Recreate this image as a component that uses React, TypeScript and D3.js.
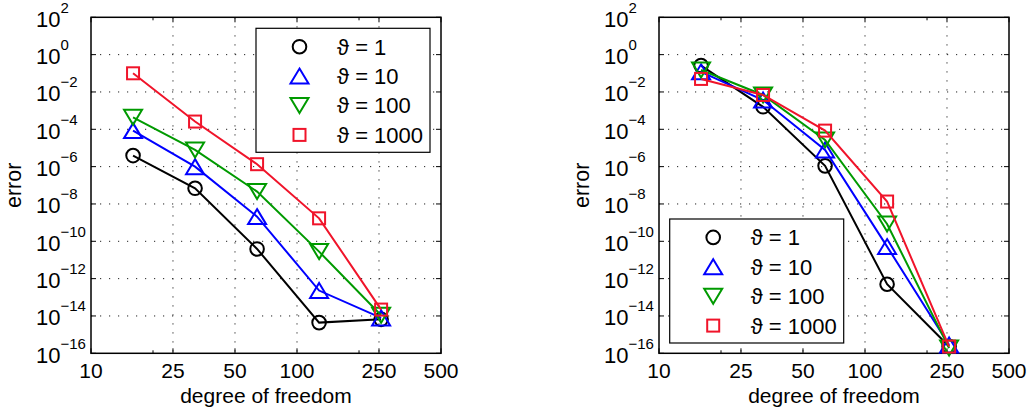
import React from 'react';
import * as d3 from 'd3';

// degrees of freedom (x) and axis ticks
const dof = [16, 32, 64, 128, 256];
const xTicks = [10, 25, 50, 100, 250, 500];
const xMinorTicks = [20, 200];
const yTicks = [1e2, 1e0, 1e-2, 1e-4, 1e-6, 1e-8, 1e-10, 1e-12, 1e-14, 1e-16];
const yTickExp = ['2', '0', '\u22122', '\u22124', '\u22126', '\u22128', '\u221210', '\u221212', '\u221214', '\u221216'];
const seriesNames = ['\u03d1 = 1', '\u03d1 = 10', '\u03d1 = 100', '\u03d1 = 1000'];

// left panel errors
const leftTheta1 = [3.9e-6, 6.9e-8, 3.9e-11, 4.4e-15, 6.6e-15];
const leftTheta10 = [8.5e-5, 1.0e-6, 2.1e-9, 2.3e-13, 7.9e-15];
const leftTheta100 = [4.4e-4, 7.8e-6, 4.6e-8, 2.8e-11, 1.1e-14];
const leftTheta1000 = [1.0e-1, 2.6e-4, 1.35e-6, 1.7e-9, 2.2e-14];

// right panel errors
const rightTheta1 = [2.6e-1, 1.6e-3, 1.1e-6, 5.0e-13, 2.3e-16];
const rightTheta10 = [1.2e-1, 3.7e-3, 7.8e-6, 5.2e-11, 2.8e-16];
const rightTheta100 = [1.5e-1, 6.9e-3, 2.7e-5, 8.5e-10, 1.9e-16];
const rightTheta1000 = [5.0e-2, 6.9e-3, 8.5e-5, 1.35e-8, 2.3e-16];

const colors = ['#000000', '#0000ff', '#009a00', '#f0142a'];
const markers = ['circle', 'up', 'down', 'square'];
const font = '"Liberation Sans", Arial, Helvetica, sans-serif';

const W = 350;
const H = 336;
const TOP = 17.3;

function Marker({ type, x, y, color }: { type: string; x: number; y: number; color: string }) {
  const common = { fill: 'none', stroke: color, strokeWidth: 2 };
  if (type === 'circle') return <circle cx={x} cy={y} r={6.8} {...common} />;
  if (type === 'square') return <rect x={x - 6} y={y - 6} width={12} height={12} {...common} />;
  if (type === 'up')
    return <path d={`M${x},${y - 7.5}L${x + 9},${y + 7.5}L${x - 9},${y + 7.5}Z`} {...common} strokeLinejoin="miter" />;
  return <path d={`M${x},${y + 7.5}L${x + 9},${y - 7.5}L${x - 9},${y - 7.5}Z`} {...common} strokeLinejoin="miter" />;
}

function Panel({ left, series, legend }: { left: number; series: number[][]; legend: { x: number; y: number } }) {
  const x = d3.scaleLog().domain([10, 500]).range([0, W]);
  const y = d3.scaleLog().domain([1e-16, 1e2]).range([H, 0]);
  const line = d3.line<number>().x((_, i) => x(dof[i])).y(d => y(d));

  return (
    <g transform={`translate(${left},${TOP})`} fontFamily={font}>
      {/* grid */}
      {xTicks.slice(1, -1).map(t => (
        <line key={'gx' + t} x1={x(t)} x2={x(t)} y1={0} y2={H} stroke="#222" strokeWidth={1} strokeDasharray="1.2 7.8" />
      ))}
      {yTicks.slice(1, -1).map(t => (
        <line key={'gy' + t} x1={0} x2={W} y1={y(t)} y2={y(t)} stroke="#222" strokeWidth={1} strokeDasharray="1.2 7.8" />
      ))}
      {/* ticks */}
      {xTicks.map(t => (
        <g key={'tx' + t}>
          <line x1={x(t)} x2={x(t)} y1={H} y2={H - 5} stroke="#000" strokeWidth={1} />
          <line x1={x(t)} x2={x(t)} y1={0} y2={5} stroke="#000" strokeWidth={1} />
          <text x={x(t)} y={H + 25} textAnchor="middle" fontSize={21}>{t}</text>
        </g>
      ))}
      {xMinorTicks.map(t => (
        <g key={'mx' + t}>
          <line x1={x(t)} x2={x(t)} y1={H} y2={H - 3} stroke="#000" strokeWidth={1} />
          <line x1={x(t)} x2={x(t)} y1={0} y2={3} stroke="#000" strokeWidth={1} />
        </g>
      ))}
      {yTicks.map((t, i) => (
        <g key={'ty' + i}>
          <line x1={0} x2={5} y1={y(t)} y2={y(t)} stroke="#000" strokeWidth={1} />
          <line x1={W} x2={W - 5} y1={y(t)} y2={y(t)} stroke="#000" strokeWidth={1} />
          <text x={-55} y={y(t) + 9.3} fontSize={22}>
            10<tspan fontSize={15} dy={-14}>{yTickExp[i]}</tspan>
          </text>
        </g>
      ))}
      {/* box */}
      <rect x={0} y={0} width={W} height={H} fill="none" stroke="#000" strokeWidth={1.5} />
      {/* series */}
      {series.map((s, k) => (
        <g key={'s' + k}>
          <path d={line(s) || ''} fill="none" stroke={colors[k]} strokeWidth={2} />
          {s.map((v, i) => (
            <Marker key={i} type={markers[k]} x={x(dof[i])} y={y(v)} color={colors[k]} />
          ))}
        </g>
      ))}
      {/* legend */}
      <g transform={`translate(${legend.x},${legend.y})`}>
        <rect x={0} y={0} width={174} height={124} fill="#fff" stroke="#000" strokeWidth={1.2} />
        {seriesNames.map((n, k) => (
          <g key={'l' + k}>
            <Marker type={markers[k]} x={43.5} y={18.4 + k * 29.4} color={colors[k]} />
            <text x={81} y={18.4 + k * 29.4 + 8} fontSize={22}>{n}</text>
          </g>
        ))}
      </g>
      {/* axis titles */}
      <text x={W / 2} y={H + 50} textAnchor="middle" fontSize={21}>degree of freedom</text>
      <text transform={`translate(-70,${H / 2}) rotate(-90)`} textAnchor="middle" fontSize={21.5}>error</text>
    </g>
  );
}

export default function App() {
  return (
    <svg width={1029} height={409} style={{ position: 'absolute', left: 0, top: 0, background: '#fff' }}>
      <Panel
        left={91}
        series={[leftTheta1, leftTheta10, leftTheta100, leftTheta1000]}
        legend={{ x: 165, y: 11 }}
      />
      <Panel
        left={659}
        series={[rightTheta1, rightTheta10, rightTheta100, rightTheta1000]}
        legend={{ x: 10.7, y: 201.7 }}
      />
    </svg>
  );
}
